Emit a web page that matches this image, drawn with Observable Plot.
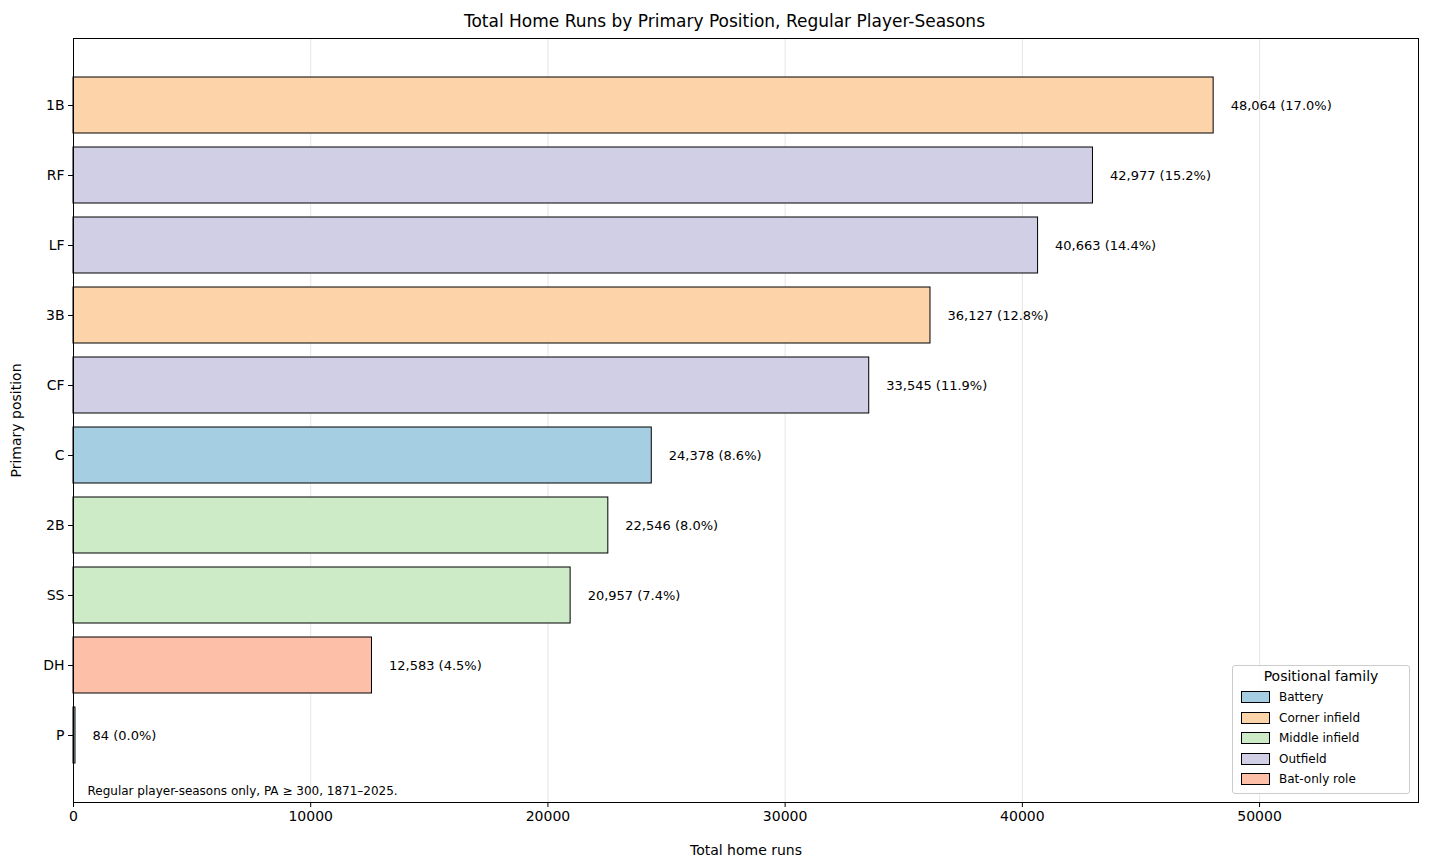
<!DOCTYPE html>
<html><head><meta charset="utf-8">
<script src="https://cdn.jsdelivr.net/npm/d3@7"></script>
<script src="https://cdn.jsdelivr.net/npm/@observablehq/plot@0.6"></script>
<style>
body{margin:0;font-family:"DejaVu Sans",sans-serif;background:#fff;position:relative;width:1429px;height:865px;overflow:hidden}
#title{height:30px;line-height:42px;text-align:center;font-size:17px;padding-left:20px;box-sizing:border-box}
#legend{position:absolute;left:1232px;top:665px;width:178px;height:129px;border:1px solid #ccc;border-radius:3px;background:rgba(255,255,255,0.85);box-sizing:border-box;padding:2px 6px;font-size:12px}
#legend .t{font-size:14px;text-align:center;margin-bottom:3px}
#legend .r{display:flex;align-items:center;height:20.5px}
#legend .p{width:27px;height:10px;border:1px solid #000;margin-right:9px;margin-left:2px}
</style></head><body>
<div id="title">Total Home Runs by Primary Position, Regular Player-Seasons</div>
<div id="chart"></div>
<div id="legend"></div>
<script>
const positions = ["1B","RF","LF","3B","CF","C","2B","SS","DH","P"];
const homeRuns = [48064,42977,40663,36127,33545,24378,22546,20957,12583,84];
const shares = [17.0,15.2,14.4,12.8,11.9,8.6,8.0,7.4,4.5,0.0];
const families = ["Corner infield","Outfield","Outfield","Corner infield","Outfield","Battery","Middle infield","Middle infield","Bat-only role","Battery"];
const familyNames = ["Battery","Corner infield","Middle infield","Outfield","Bat-only role"];
const familyColors = ["#a6cee3","#fdd3aa","#ceebc8","#d0cfe6","#fdbfa8"];
const xTicks = [0,10000,20000,30000,40000,50000];

const data = positions.map((p,i)=>({pos:p,hr:homeRuns[i],share:shares[i],fam:families[i]}));
const fmt = d3.format(",");
const chart = Plot.plot({
  width:1429,height:835,marginTop:8,marginBottom:63,marginLeft:73,marginRight:11,
  style:{fontFamily:"DejaVu Sans",fontSize:"14px",color:"#000"},
  x:{domain:[0,56700],ticks:xTicks,tickFormat:d=>String(d),label:"Total home runs",labelAnchor:"center",labelOffset:52,grid:false},
  y:{domain:positions,padding:0.2,paddingOuter:0.5,label:"Primary position",labelAnchor:"center",labelOffset:62},
  color:{domain:familyNames,range:familyColors},
  marks:[
    Plot.ruleX(xTicks,{stroke:"#e6e6e6",strokeWidth:1}),
    Plot.barX(data,{y:"pos",x:"hr",fill:"fam",stroke:"#000",strokeWidth:1}),
    Plot.text(data,{y:"pos",x:"hr",text:d=>`${fmt(d.hr)} (${d.share.toFixed(1)}%)`,textAnchor:"start",dx:17,fontSize:13}),
    Plot.text(["Regular player-seasons only, PA \u2265 300, 1871\u20132025."],{frameAnchor:"bottom-left",dx:14,dy:-8,fontSize:12}),
    Plot.frame({stroke:"#000"}),
    Plot.axisX({ticks:xTicks,tickFormat:d=>String(d),tickSize:5,label:"Total home runs",labelAnchor:"center",labelOffset:52,labelArrow:"none"}),
    Plot.axisY({tickSize:5,label:"Primary position",labelAnchor:"center",labelOffset:62,labelArrow:"none"})
  ]
});
document.getElementById("chart").appendChild(chart);
const lg=document.getElementById("legend");
lg.innerHTML='<div class="t">Positional family</div>'+familyNames.map((f,i)=>`<div class="r"><div class="p" style="background:${familyColors[i]}"></div>${f}</div>`).join("");
</script></body></html>
